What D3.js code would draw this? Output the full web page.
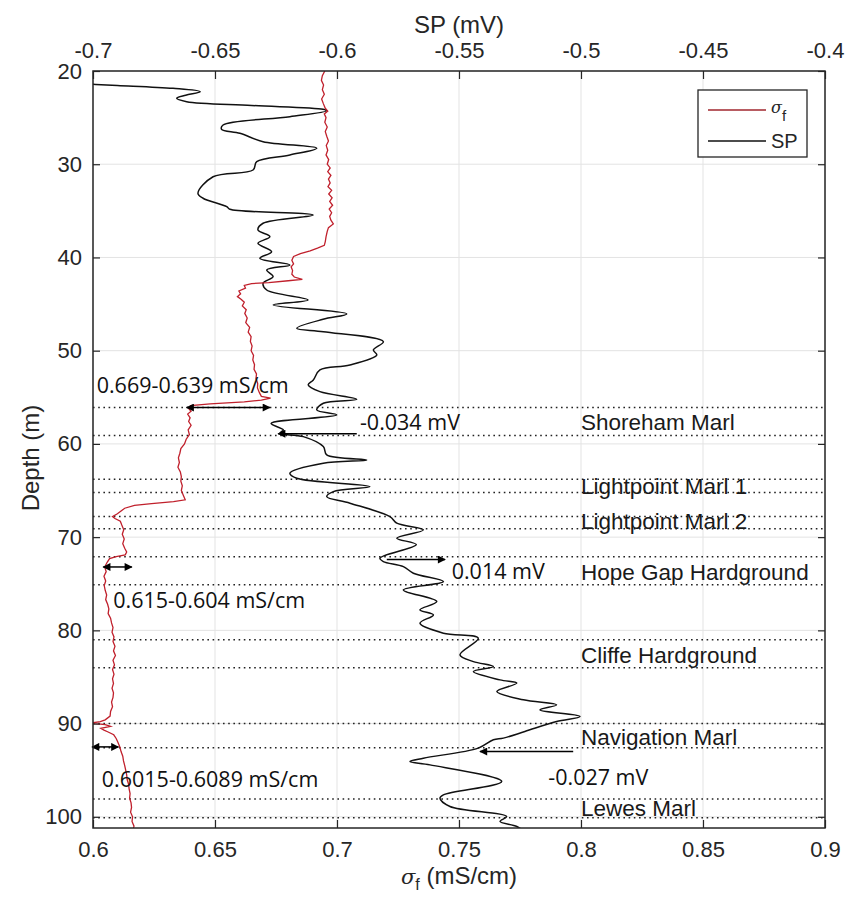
<!DOCTYPE html>
<html>
<head>
<meta charset="utf-8">
<script src="https://cdn.jsdelivr.net/npm/d3@7"></script>
<style>
  body { margin: 0; background: #fff; }
  text { font-family: "Liberation Sans", Arial, sans-serif; }
</style>
</head>
<body>
<svg id="chart" width="851" height="898"></svg>
<script>
  // axis ticks
  var sigmaTicks = [0.6, 0.65, 0.7, 0.75, 0.8, 0.85, 0.9];
  var spTicks = [-0.7, -0.65, -0.6, -0.55, -0.5, -0.45, -0.4];
  var depthTicks = [20, 30, 40, 50, 60, 70, 80, 90, 100];

  // fluid conductivity log (mS/cm) against depth (m)
  var sigmaDepth = [20.0, 20.5, 21.0, 21.5, 22.0, 22.5, 23.0, 23.5, 24.0, 24.3, 24.6, 25.0, 25.5, 26.0, 26.5,
    27.0, 27.5, 28.0, 28.5, 29.0, 29.5, 30.0, 30.4, 30.8, 31.2, 31.6, 32.0, 32.4, 32.8, 33.2, 33.6, 34.0,
    34.4, 34.8, 35.2, 35.6, 36.0, 36.4, 36.8, 37.2, 37.8, 38.3, 38.7, 39.0, 39.3, 39.6, 39.9, 40.3, 40.7,
    41.0, 41.4, 41.8, 42.1, 42.35, 42.5, 42.7, 42.8, 43.0, 43.3, 43.6, 43.9, 44.2, 44.5, 44.8, 45.2, 45.6,
    46.0, 46.5, 47.0, 47.5, 48.0, 48.5, 49.0, 49.5, 50.0, 50.5, 51.0, 51.5, 52.0, 52.5, 53.0, 53.5, 54.0,
    54.5, 54.9, 55.1, 55.3, 55.5, 55.7, 55.9, 56.2, 56.5, 56.8, 57.2, 57.6, 58.0, 58.5, 59.0, 59.5, 60.0,
    60.5, 61.0, 61.5, 62.0, 62.5, 63.0, 63.5, 64.0, 64.5, 65.0, 65.5, 66.0, 66.2, 66.4, 66.6, 66.9, 67.2,
    67.5, 67.8, 68.0, 68.3, 68.7, 69.2, 69.7, 70.2, 70.7, 71.2, 71.6, 71.9, 72.1, 72.3, 72.7, 73.2, 73.7,
    74.2, 74.7, 75.2, 75.7, 76.2, 76.7, 77.2, 77.7, 78.2, 78.7, 79.2, 79.7, 80.2, 80.7, 81.2, 81.7, 82.2,
    82.7, 83.2, 83.7, 84.2, 84.7, 85.2, 85.7, 86.2, 86.7, 87.2, 87.7, 88.2, 88.7, 89.2, 89.6, 89.8, 89.95,
    90.1, 90.3, 90.5, 90.7, 90.9, 91.2, 91.6, 92.0, 92.5, 93.0, 93.5, 94.0, 94.5, 95.0, 95.5, 96.0, 96.5,
    97.0, 97.5, 98.0, 98.5, 99.0, 99.5, 100.0, 100.5, 101.0, 101.3];
  var sigmaVal = [0.6950, 0.6940, 0.6936, 0.6945, 0.6940, 0.6948, 0.6937, 0.6944, 0.6952, 0.6962, 0.6948,
    0.6955, 0.6950, 0.6960, 0.6952, 0.6958, 0.6965, 0.6956, 0.6962, 0.6955, 0.6966, 0.6960, 0.6972, 0.6962,
    0.6975, 0.6965, 0.6972, 0.6963, 0.6978, 0.6966, 0.6980, 0.6970, 0.6982, 0.6968, 0.6978, 0.6970, 0.6975,
    0.6985, 0.6965, 0.6960, 0.6955, 0.6952, 0.6948, 0.6920, 0.6890, 0.6850, 0.6822, 0.6815, 0.6822, 0.6812,
    0.6818, 0.6815, 0.6825, 0.6858, 0.6800, 0.6720, 0.6650, 0.6620, 0.6625, 0.6598, 0.6605, 0.6592, 0.6608,
    0.6620, 0.6612, 0.6628, 0.6622, 0.6632, 0.6626, 0.6642, 0.6636, 0.6648, 0.6645, 0.6652, 0.6648, 0.6658,
    0.6655, 0.6662, 0.6660, 0.6670, 0.6668, 0.6675, 0.6674, 0.6682, 0.6690, 0.6728, 0.6690, 0.6620, 0.6480,
    0.6400, 0.6392, 0.6402, 0.6388, 0.6398, 0.6392, 0.6402, 0.6390, 0.6395, 0.6382, 0.6375, 0.6360, 0.6356,
    0.6350, 0.6354, 0.6348, 0.6358, 0.6362, 0.6360, 0.6366, 0.6362, 0.6370, 0.6378, 0.6330, 0.6240, 0.6170,
    0.6130, 0.6115, 0.6100, 0.6080, 0.6090, 0.6112, 0.6118, 0.6126, 0.6120, 0.6128, 0.6122, 0.6130, 0.6138,
    0.6132, 0.6095, 0.6068, 0.6058, 0.6048, 0.6054, 0.6045, 0.6052, 0.6046, 0.6050, 0.6056, 0.6052, 0.6060,
    0.6065, 0.6062, 0.6072, 0.6076, 0.6082, 0.6078, 0.6086, 0.6082, 0.6090, 0.6084, 0.6092, 0.6082, 0.6088,
    0.6080, 0.6086, 0.6080, 0.6084, 0.6078, 0.6084, 0.6082, 0.6076, 0.6080, 0.6072, 0.6070, 0.6050, 0.6030,
    0.5990, 0.6050, 0.6072, 0.6032, 0.6045, 0.6062, 0.6085, 0.6095, 0.6102, 0.6110, 0.6115, 0.6122, 0.6125,
    0.6130, 0.6134, 0.6138, 0.6140, 0.6146, 0.6148, 0.6152, 0.6150, 0.6156, 0.6158, 0.6154, 0.6162, 0.6160,
    0.6168, 0.6165];

  // self potential log (mV) against depth (m)
  var spDepth = [21.3, 21.55, 21.86, 22.22, 22.6, 22.93, 23.29, 23.7, 24.11, 24.26, 24.9, 25.79, 26.25,
    26.68, 27.58, 28.29, 29.01, 29.73, 30.62, 31.34, 33.12, 33.65, 34.55, 34.83, 35.44, 36.33, 37.05, 37.77,
    38.48, 39.38, 40.09, 40.8, 41.34, 42.06, 42.77, 43.49, 44.56, 45.09, 46.06, 46.63, 47.59, 47.96, 49.03,
    49.92, 50.46, 51.53, 52.06, 53.14, 53.67, 54.39, 55.21, 55.64, 56.35, 56.89, 57.8, 58.5, 58.86, 59.22,
    60.29, 61.18, 61.72, 62.07, 63.14, 63.68, 64.58, 65.12, 65.65, 66.36, 67.8, 68.5, 69.22, 70.11, 70.8,
    72.26, 72.62, 73.16, 73.87, 74.77, 75.66, 76.91, 77.8, 78.34, 79.23, 80.3, 80.84, 82.63, 83.35, 83.88,
    84.42, 85.31, 85.66, 86.56, 87.45, 87.99, 88.53, 89.24, 89.78, 90.85, 91.56, 91.74, 92.63, 93.71, 94.07,
    94.43, 96.21, 97.64, 98.0, 98.89, 99.97, 100.5, 101.04, 101.6];
  var spVal = [-0.712, -0.690, -0.6672, -0.6561, -0.6620, -0.6657, -0.6616, -0.6350, -0.6057, -0.6042,
    -0.6193, -0.6467, -0.6473, -0.6398, -0.6303, -0.6083, -0.6193, -0.6329, -0.6344, -0.6508, -0.6570,
    -0.6549, -0.6452, -0.6439, -0.6098, -0.6303, -0.6324, -0.6275, -0.6324, -0.6268, -0.6316, -0.6193,
    -0.6288, -0.6262, -0.6303, -0.6288, -0.6119, -0.6261, -0.5960, -0.6057, -0.6165, -0.6056, -0.5810,
    -0.5851, -0.5837, -0.5947, -0.6070, -0.6097, -0.6118, -0.6070, -0.5919, -0.6056, -0.6083, -0.6001,
    -0.6270, -0.6220, -0.6234, -0.6138, -0.6056, -0.6042, -0.5878, -0.6056, -0.6193, -0.6165, -0.5865,
    -0.6015, -0.6042, -0.5947, -0.5783, -0.5755, -0.5646, -0.5755, -0.5675, -0.5824, -0.5810, -0.5728,
    -0.5687, -0.5564, -0.5728, -0.5591, -0.5660, -0.5605, -0.5660, -0.5564, -0.5421, -0.5496, -0.5441,
    -0.5359, -0.5441, -0.5332, -0.5263, -0.5345, -0.5236, -0.5100, -0.5168, -0.5004, -0.5100, -0.5230,
    -0.5318, -0.5359, -0.5421, -0.5646, -0.5701, -0.5619, -0.5325, -0.5564, -0.5578, -0.5537, -0.5305,
    -0.5332, -0.5263, -0.523];

  // marl / hardground intervals
  var formationNames = ["Shoreham Marl", "Lightpoint Marl 1", "Lightpoint Marl 2", "Hope Gap Hardground",
    "Cliffe Hardground", "Navigation Marl", "Lewes Marl"];
  var formationTop = [56.1, 63.8, 67.8, 72.1, 81.0, 90.0, 98.1];
  var formationBase = [59.1, 65.2, 69.1, 75.1, 84.0, 92.6, 100.1];
  var formationLabelDepth = [58.5, 65.4, 69.15, 74.6, 83.5, 92.3, 99.95];

  // annotations (arrows + text)
  var arrowAxis = ["sigma", "sp", "sp", "sigma", "sigma", "sp"];
  var arrowFrom = [0.6384, -0.5919, -0.5796, 0.6042, 0.5996, -0.5032];
  var arrowTo = [0.6725, -0.6241, -0.5557, 0.6159, 0.6104, -0.5414];
  var arrowDepth = [56.1, 58.9, 72.4, 73.2, 92.5, 93.0];
  var arrowBoth = [true, false, false, true, true, false];

  var noteText = ["0.669-0.639 mS/cm", "-0.034 mV", "0.014 mV", "0.615-0.604 mS/cm", "0.6015-0.6089 mS/cm", "-0.027 mV"];
  var noteAxis = ["sigma", "sp", "sp", "sigma", "sigma", "sp"];
  var noteX = [0.6015, -0.5906, -0.553, 0.6083, 0.6036, -0.5134];
  var noteDepth = [54.5, 58.5, 74.5, 77.6, 96.75, 96.57];

  var margin = { top: 71, left: 93 };
  var width = 732, height = 757;
  var ink = '#262626';

  var svg = d3.select('#chart');
  var g = svg.append('g').attr('transform', 'translate(' + margin.left + ',' + margin.top + ')');

  var x = d3.scaleLinear().domain([0.6, 0.9]).range([0, width]);
  var xSP = d3.scaleLinear().domain([-0.7, -0.4]).range([0, width]);
  var y = d3.scaleLinear().domain([20, 101.2]).range([0, height]);
  var xFor = function (axis) { return axis === 'sp' ? xSP : x; };

  svg.append('defs').append('clipPath').attr('id', 'clip')
    .append('rect').attr('width', width).attr('height', height);

  var defs = svg.select('defs');
  defs.append('marker').attr('id', 'head').attr('viewBox', '0 0 10 10')
    .attr('refX', 9).attr('refY', 5).attr('markerWidth', 10).attr('markerHeight', 8)
    .attr('markerUnits', 'userSpaceOnUse').attr('orient', 'auto-start-reverse')
    .append('path').attr('d', 'M0,0 L10,5 L0,10 z').attr('fill', '#000');

  // grid
  g.append('g').selectAll('line').data(sigmaTicks).enter().append('line')
    .attr('x1', x).attr('x2', x).attr('y1', 0).attr('y2', height)
    .attr('stroke', '#e3e3e3').attr('stroke-width', 1);
  g.append('g').selectAll('line').data(depthTicks).enter().append('line')
    .attr('x1', 0).attr('x2', width).attr('y1', y).attr('y2', y)
    .attr('stroke', '#e3e3e3').attr('stroke-width', 1);

  // dotted formation boundaries
  var bounds = formationTop.concat(formationBase);
  g.append('g').selectAll('line').data(bounds).enter().append('line')
    .attr('x1', 0).attr('x2', width).attr('y1', y).attr('y2', y)
    .attr('stroke', '#222').attr('stroke-width', 1.5).attr('stroke-dasharray', '1.6,3.6');

  // formation labels
  g.append('g').selectAll('text').data(formationNames).enter().append('text')
    .attr('x', x(0.8)).attr('y', function (d, i) { return y(formationLabelDepth[i]); })
    .attr('font-size', 22.5).attr('fill', '#1a1a1a')
    .text(function (d) { return d; });

  // curves
  var sigmaData = sigmaDepth.map(function (d, i) { return { d: d, v: sigmaVal[i] }; });
  var spData = spDepth.map(function (d, i) { return { d: d, v: spVal[i] }; });

  var curves = g.append('g').attr('clip-path', 'url(#clip)');
  curves.append('path').datum(spData)
    .attr('d', d3.line().x(function (d) { return xSP(d.v); }).y(function (d) { return y(d.d); })
      .curve(d3.curveCatmullRom.alpha(0.5)))
    .attr('fill', 'none').attr('stroke', '#111').attr('stroke-width', 1.5);
  curves.append('path').datum(sigmaData)
    .attr('d', d3.line().x(function (d) { return x(d.v); }).y(function (d) { return y(d.d); }))
    .attr('fill', 'none').attr('stroke', '#c0202c').attr('stroke-width', 1.3);

  // arrows
  g.append('g').selectAll('line').data(arrowDepth).enter().append('line')
    .attr('x1', function (d, i) { return xFor(arrowAxis[i])(arrowFrom[i]); })
    .attr('x2', function (d, i) { return xFor(arrowAxis[i])(arrowTo[i]); })
    .attr('y1', y).attr('y2', y)
    .attr('stroke', '#000').attr('stroke-width', 1.5)
    .attr('marker-end', 'url(#head)')
    .attr('marker-start', function (d, i) { return arrowBoth[i] ? 'url(#head)' : null; });

  // notes
  g.append('g').selectAll('text').data(noteText).enter().append('text')
    .attr('x', function (d, i) { return xFor(noteAxis[i])(noteX[i]); })
    .attr('y', function (d, i) { return y(noteDepth[i]); })
    .style('font-family', '"Open Sans", sans-serif').attr('font-size', 21.5).attr('fill', '#111')
    .text(function (d) { return d; });

  // axes
  var fmt = function (d) { return String(d); };
  var styleAxis = function (sel) {
    sel.select('.domain').remove();
    sel.selectAll('line').attr('stroke', ink).attr('stroke-width', 1.2);
    sel.selectAll('text').attr('fill', ink).attr('font-size', 22)
      .style('font-family', '"Liberation Sans", Arial, sans-serif');
  };

  g.append('g').attr('transform', 'translate(0,' + height + ')')
    .call(d3.axisBottom(x).tickValues(sigmaTicks).tickFormat(fmt).tickSizeInner(-8).tickSizeOuter(0).tickPadding(13))
    .call(styleAxis);
  g.append('g')
    .call(d3.axisTop(xSP).tickValues(spTicks).tickFormat(fmt).tickSizeInner(-8).tickSizeOuter(0).tickPadding(13))
    .call(styleAxis);
  g.append('g')
    .call(d3.axisLeft(y).tickValues(depthTicks).tickFormat(fmt).tickSizeInner(-7).tickSizeOuter(0).tickPadding(11))
    .call(styleAxis);
  g.append('g').attr('transform', 'translate(' + width + ',0)')
    .call(d3.axisRight(y).tickValues(depthTicks).tickFormat('').tickSizeInner(-7).tickSizeOuter(0))
    .call(styleAxis);

  // frame
  g.append('rect').attr('width', width).attr('height', height)
    .attr('fill', 'none').attr('stroke', ink).attr('stroke-width', 1.5);

  // axis titles
  svg.append('text').attr('x', margin.left + width / 2).attr('y', 33)
    .attr('text-anchor', 'middle').attr('font-size', 24).attr('fill', ink).text('SP (mV)');

  var xt = svg.append('text').attr('x', margin.left + width / 2).attr('y', 884)
    .attr('text-anchor', 'middle').attr('font-size', 24).attr('fill', ink);
  xt.append('tspan').style('font-style', 'italic').style('font-family', '"DejaVu Serif", serif').attr('font-size', 21).text('σ');
  xt.append('tspan').attr('font-size', 16).attr('dy', 6).text('f');
  xt.append('tspan').attr('dy', -6).text(' (mS/cm)');

  svg.append('text').attr('transform', 'translate(39,458) rotate(-90)')
    .attr('text-anchor', 'middle').attr('font-size', 24).attr('fill', ink).text('Depth (m)');

  // legend
  var leg = svg.append('g').attr('transform', 'translate(698,90)');
  leg.append('rect').attr('width', 109).attr('height', 67)
    .attr('fill', '#fff').attr('stroke', ink).attr('stroke-width', 1.3);
  var legItems = [{ c: '#a0262e', t: 'sigma' }, { c: '#111', t: 'SP' }];
  legItems.forEach(function (it, i) {
    var ly = 20 + i * 31;
    leg.append('line').attr('x1', 10).attr('x2', 68).attr('y1', ly).attr('y2', ly)
      .attr('stroke', it.c).attr('stroke-width', 1.3);
    var t = leg.append('text').attr('x', 73).attr('y', ly + 7).attr('font-size', 20).attr('fill', ink);
    if (it.t === 'sigma') {
      t.append('tspan').style('font-style', 'italic').style('font-family', '"DejaVu Serif", serif')
        .attr('font-size', 16).attr('dy', -4).text('σ');
      t.append('tspan').attr('font-size', 15).attr('dy', 8).text('f');
    } else {
      t.text('SP');
    }
  });
</script>
</body>
</html>
